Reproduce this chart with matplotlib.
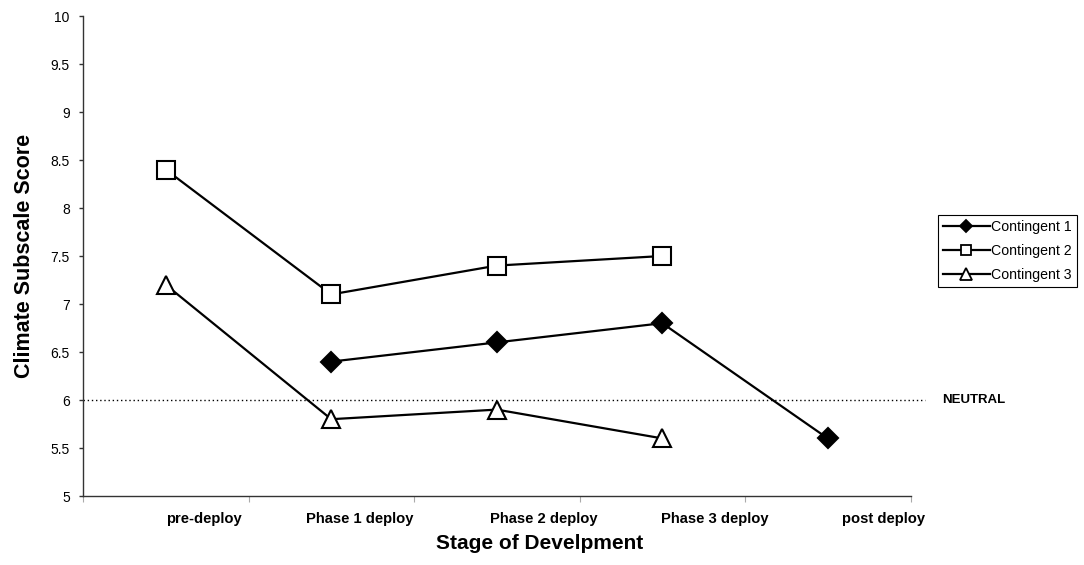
import matplotlib
matplotlib.use("Agg")
import matplotlib.pyplot as plt
import matplotlib.transforms as mtransforms
from matplotlib.lines import Line2D
import numpy as np

plt.rcParams['font.family'] = ['Liberation Sans', 'DejaVu Sans']

categories = ["pre-deploy", "Phase 1 deploy", "Phase 2 deploy", "Phase 3 deploy", "post deploy"]
contingent1 = [None, 6.4, 6.6, 6.8, 5.6]
contingent2 = [8.4, 7.1, 7.4, 7.5, None]
contingent3 = [7.2, 5.8, 5.9, 5.6, None]
series_names = ["Contingent 1", "Contingent 2", "Contingent 3"]
neutral_value = 6.0
neutral_label = "NEUTRAL"
y_ticks = [5, 5.5, 6, 6.5, 7, 7.5, 8, 8.5, 9, 9.5, 10]
y_tick_labels = ["5", "5.5", "6", "6.5", "7", "7.5", "8", "8.5", "9", "9.5", "10"]

W, H = 1084, 565
fig = plt.figure(figsize=(W / 100, H / 100), dpi=100)
ax = fig.add_axes([83 / W, 1 - 496 / H, (910.5 - 83) / W, (496 - 16) / H])

x = np.arange(len(categories)) + 0.5

def xy(vals):
    xs = [xi for xi, v in zip(x, vals) if v is not None]
    ys = [v for v in vals if v is not None]
    return xs, ys

styles = [
    dict(marker='D', markersize=10, markerfacecolor='black', markeredgecolor='black'),
    dict(marker='s', markersize=13, markerfacecolor='white', markeredgecolor='black'),
    dict(marker='^', markersize=13.5, markerfacecolor='white', markeredgecolor='black'),
]
for vals, st in zip([contingent1, contingent2, contingent3], styles):
    xs, ys = xy(vals)
    ax.plot(xs, ys, color='black', lw=1.6, markeredgewidth=1.5, clip_on=False, zorder=3, **st)

# neutral line
ax.axhline(neutral_value, xmin=0, xmax=1.018, color='black', lw=1.0,
           ls=(0, (1, 2)), clip_on=False, zorder=2)
trans = mtransforms.blended_transform_factory(ax.transAxes, ax.transData)
ax.annotate(neutral_label, xy=(1, neutral_value), xycoords=trans,
            xytext=(23, 0), textcoords='offset points', ha='left', va='center',
            fontsize=9.5, fontweight='bold', annotation_clip=False)

ax.set_xlim(0, len(categories))
ax.set_ylim(5, 10)
ax.set_yticks(y_ticks)
ax.set_yticklabels(y_tick_labels, fontsize=10)
ax.tick_params(axis='y', direction='out', length=3, width=1, pad=6.5, color='#333333')

ax.set_xticks(np.arange(len(categories) + 1))
ax.set_xticklabels([])
ax.tick_params(axis='x', which='major', direction='out', length=4, width=0.8, color='#aaaaaa')
ax.set_xticks(x, minor=True)
ax.set_xticklabels(categories, minor=True, fontsize=10.6, fontweight='bold')
ax.tick_params(axis='x', which='minor', length=0, pad=11.5)
offsets_px = [38, 28, 47, 53, 56]
for lab, off in zip(ax.xaxis.get_minorticklabels(), offsets_px):
    lab.set_transform(lab.get_transform() + mtransforms.ScaledTranslation(off / 100, 0, fig.dpi_scale_trans))

for side in ['top', 'right']:
    ax.spines[side].set_visible(False)
for side in ['left', 'bottom']:
    ax.spines[side].set_color('#333333')
    ax.spines[side].set_linewidth(1.0)

ax.set_ylabel("Climate Subscale Score", fontsize=15.5, fontweight='bold', labelpad=11)
ax.set_xlabel("Stage of Develpment", fontsize=15, fontweight='bold')
ax.xaxis.set_label_coords((540 - 83) / (910.5 - 83), -0.08)

handles = [Line2D([], [], color='black', lw=1.6, markeredgewidth=1.3,
                  **{**st, 'markersize': st['markersize'] * 0.6}) for st in styles]
leg = fig.legend(handles, series_names, loc='upper left',
                 bbox_to_anchor=(938 / W, 1 - 215 / H), fontsize=10.2,
                 frameon=True, fancybox=False, edgecolor='black', framealpha=1,
                 handlelength=3.3, handletextpad=0.1, borderpad=0.35,
                 borderaxespad=0, labelspacing=0.7)
leg.get_frame().set_linewidth(0.8)

fig.savefig("out.png", dpi=100)
